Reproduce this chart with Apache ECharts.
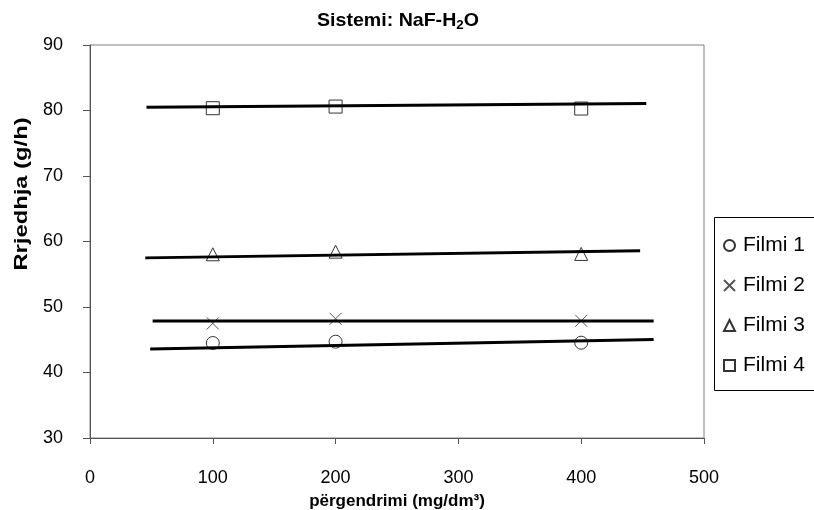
<!DOCTYPE html>
<html>
<head>
<meta charset="utf-8">
<script src="https://cdn.jsdelivr.net/npm/echarts@6/dist/echarts.min.js"></script>
<style>
  html, body { margin: 0; padding: 0; background: #fff; }
  #chart { width: 814px; height: 510px; }
</style>
</head>
<body>
<div id="chart"></div>
<script>
// Concentration (mg/dm3) at which each film was measured
const concentrations = [100, 200, 400];

// Measured flux (g/h) per film
const filmi1 = [44.5, 44.7, 44.55];
const filmi2 = [47.5, 48.2, 47.9];
const filmi3 = [58.05, 58.45, 58.1];
const filmi4 = [80.35, 80.6, 80.3];

// Trend line endpoints per film: [x start, y start, x end, y end]
const trend1 = [49, 43.6, 459, 45.05];
const trend2 = [51, 47.85, 459, 47.85];
const trend3 = [45, 57.5, 448, 58.6];
const trend4 = [46, 80.5, 453, 81.05];

const seriesNames = ['Filmi 1', 'Filmi 2', 'Filmi 3', 'Filmi 4'];
const xTicks = { min: 0, max: 500, interval: 100 };
const yTicks = { min: 30, max: 90, interval: 10 };

const FONT = 'Liberation Sans, Arial, sans-serif';
const MARK = '#333';
const crossPath = 'path://M0,0L10,10M10,0L0,10';
const symbols = ['circle', crossPath, 'triangle', 'rect'];
const values = [filmi1, filmi2, filmi3, filmi4];
const trends = [trend1, trend2, trend3, trend4];

// Hollow markers: transparent fill, thin outline
const scatterSeries = values.map((vals, i) => ({
  name: seriesNames[i],
  type: 'scatter',
  symbol: symbols[i],
  symbolSize: i === 1 ? 12 : 13,
  z: 3,
  itemStyle: {
    color: 'rgba(255,255,255,0)',
    borderColor: i === 1 ? '#555' : MARK,
    borderWidth: 1,
    opacity: 1
  },
  data: concentrations.map((c, k) => [c, vals[k]])
}));

const trendSeries = trends.map((t, i) => ({
  name: 'trend' + (i + 1),
  type: 'line',
  showSymbol: false,
  silent: true,
  z: 4,
  lineStyle: { color: '#000', width: 3 },
  data: [[t[0], t[1]], [t[2], t[3]]]
}));

const chart = echarts.init(document.getElementById('chart'), null, { renderer: 'canvas' });
chart.setOption({
  backgroundColor: '#fff',
  animation: false,
  textStyle: { fontFamily: FONT },
  grid: {
    left: 90, right: 110, top: 45, bottom: 72,
    containLabel: false,
    outerBoundsMode: 'none',
    show: true, borderColor: '#808080', borderWidth: 1, backgroundColor: '#fff'
  },
  legend: {
    data: seriesNames.map(n => ({ name: n })),
    orient: 'vertical',
    left: 723,
    top: 235,
    itemGap: 19,
    itemWidth: 11,
    itemHeight: 11,
    padding: 0,
    textStyle: { fontFamily: FONT, fontSize: 21, lineHeight: 20, color: '#000', padding: [0, 0, 0, 3] }
  },
  graphic: [
    {
      type: 'rect',
      shape: { x: 714.5, y: 217.5, width: 120, height: 173 },
      style: { fill: 'rgba(0,0,0,0)', stroke: '#000', lineWidth: 1 },
      z: 0
    },
    {
      type: 'text',
      x: 398, y: 21,
      scaleX: 1.03,
      style: {
        text: 'Sistemi: NaF-H{sub|2}O',
        fontFamily: FONT, fontSize: 19, fontWeight: 'bold', fill: '#000',
        align: 'center', verticalAlign: 'middle',
        rich: {
          sub: { fontFamily: FONT, fontSize: 13, fontWeight: 'bold', fill: '#000', padding: [9, 0, 0, 0] }
        }
      }
    },
    {
      type: 'text',
      x: 22, y: 194,
      rotation: Math.PI / 2,
      scaleX: 1.32,
      style: {
        text: 'Rrjedhja (g/h)',
        fontFamily: FONT, fontSize: 18, fontWeight: 'bold', fill: '#000',
        align: 'center', verticalAlign: 'middle'
      }
    }
  ],
  xAxis: {
    type: 'value',
    min: xTicks.min, max: xTicks.max, interval: xTicks.interval,
    name: 'përgendrimi (mg/dm³)',
    nameLocation: 'middle',
    nameGap: 55,
    nameTextStyle: { fontFamily: FONT, fontSize: 17, fontWeight: 'bold', color: '#000' },
    splitLine: { show: false },
    axisLine: { lineStyle: { color: '#555', width: 1 } },
    axisTick: { show: true, length: 6, lineStyle: { color: '#555' } },
    axisLabel: { fontFamily: FONT, fontSize: 18, color: '#000', margin: 31 }
  },
  yAxis: {
    type: 'value',
    min: yTicks.min, max: yTicks.max, interval: yTicks.interval,
    splitLine: { show: false },
    axisLine: { show: true, lineStyle: { color: '#555', width: 1 } },
    axisTick: { show: true, length: 7, lineStyle: { color: '#555' } },
    axisLabel: { fontFamily: FONT, fontSize: 18, color: '#000', margin: 27 }
  },
  series: trendSeries.concat(scatterSeries)
});
</script>
</body>
</html>
